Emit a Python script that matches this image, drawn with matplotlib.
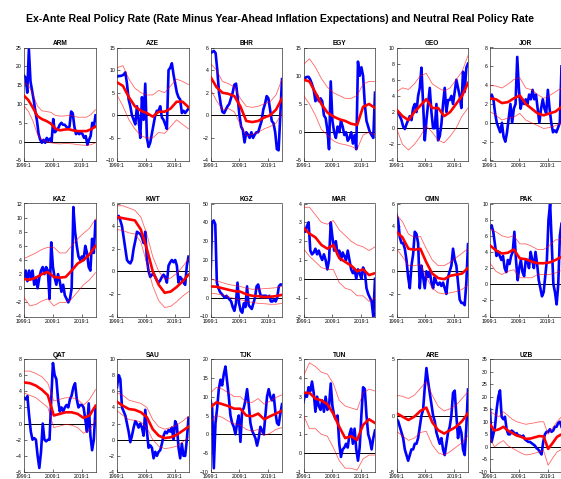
import numpy as np
import matplotlib
matplotlib.use("Agg")
import matplotlib.pyplot as plt

plt.rcParams['font.family'] = ['Liberation Sans', 'DejaVu Sans']

# time span of every panel
X0, X1 = 1999.0, 2023.75
tick_years = [1999, 2009, 2019]
tick_labels = ["1999:1", "2009:1", "2019:1"]

title = ("Ex-Ante Real Policy Rate (Rate Minus Year-Ahead Inflation Expectations) "
         "and Neutral Real Policy Rate")

# --- data (evenly spaced samples over 1999:1 - end) ---
arm_rate = [17.5, 17, 13, 24.5, 16, 13.5, 11, 8, 5.5, 2, 0.5, -0.3, 0.5, -0.3, 1, 0.2, 0.8, 0, 6,
            2.5, 3, 3.5, 4.5, 5, 4.5, 4.5, 4, 3.5, 4, 8, 7.5, 4, 2, 2.5, 2, 2.5, 2, 1, 1.5, -0.8,
            0.5, 1.5, 5, 4, 7]
arm_neutral = [12.2, 11, 9, 6.8, 6, 5.5, 4.8, 3.5, 3, 3.2, 3.3, 3, 2.8, 2.8, 2.8, 3.3, 4]
arm_upper = [15.5, 15, 12.5, 9.5, 8.2, 8, 7.8, 7, 6.8, 6.8, 7, 6.8, 6.5, 6.5, 6.5, 7.2, 8.5]
arm_lower = [9.5, 8, 5.5, 2, 0.5, 0, -0.3, -0.5, -0.6, -0.5, -0.5, -0.6, -0.8, -0.9, -1, -0.8, -0.3]

aze_rate = [8.5, 8.7, 8.7, 8.8, 9, 9.5, 7, 3.5, 2, 0, -1, -2, 2, -1, -5, 4, -1, 7, -5, -7, -6, -4,
            -2, 0, 1, 1, 2, -0.5, -1, -2, -3, 10, 10.5, 11.5, 9, 7, 5, 4, 3.5, 0.5, 1, 0.5, 1, 1.5]
aze_neutral = [7.3, 6.5, 4, 2, 1, 0.5, -0.3, 0.8, 0.8, 1.5, 3, 3, 1.8]
aze_upper = [10.5, 11, 8, 6, 5, 4.5, 4.5, 5.5, 5, 6.5, 8, 7.5, 6.8]
aze_lower = [4.5, 2, -1, -3, -4.5, -5, -5, -3.8, -4, -2.5, -1, -2, -3]

bhr_rate = [5.5, 5.6, 5.7, 5.5, 4, 2, 1, 0.3, 0.2, 0.5, 0.8, 1, 1.5, 2, 2.7, 2.8, 1.5, 0, -1, -1.3,
            -2.4, -1.5, -1.7, -2, -1.5, -2, -1.7, -1.5, -1.5, -1, -0.5, 0.5, 1, 1.7, 1.5, 0.5, -0.5,
            -0.7, -1.5, -3, -3.1, 0, 3.2]
bhr_neutral = [3.4, 2.5, 2, 1.9, 1.7, 0.8, -0.5, -0.6, -0.5, -0.2, 0, 0.5, 1.5]
bhr_upper = [4.6, 4, 3, 2.8, 2.5, 1.5, 0.8, 0.7, 0.8, 1, 1.2, 1.8, 3.2]
bhr_lower = [2.3, 1.3, 0.5, 0.6, 0.3, -0.8, -1.8, -1.7, -1.5, -1.2, -1, -0.7, 0.2]

egy_rate = [9.3, 9.6, 9.8, 9.8, 9.3, 8.5, 7.5, 5.5, 6.5, 5.5, 6, 5.5, 3, 2.5, 0.5, -3, 9, 2, 0, -1,
            1, 0, 2, 1, -0.5, 0, -1.5, -1, 0, -2, -0.5, -3, 12.5, 10, 11.5, 10, 5, 2, 1, 0, -0.5,
            -1, 7]
egy_neutral = [9.3, 9, 7, 5, 3.5, 2.8, 2.3, 2, 1.5, 1.3, 4.5, 5, 4.3]
egy_upper = [12, 13, 11.5, 9.5, 8, 7, 6.5, 6, 6, 6.5, 8.5, 9, 9]
egy_lower = [6.5, 5, 3, 0.5, -0.5, -1.5, -2, -2.2, -2.5, -3, -0.5, 0, -0.5]

geo_rate = [2.2, 2, 1.5, 1, 0.2, -0.1, 0.5, 1, 1.5, 1, 2.5, 3, 2, 4, 5, 7.5, 3, -1.5, 1, 3, 5, 2,
            0, 0, 3, -1.5, -1, 0.5, 3, 5, 2, 3.5, 3.5, 4, 3, 4.5, 6, 5, 4, 2.5, 7, 4.5, 7.5, 8]
geo_neutral = [2.3, 1.5, 1, 2, 2.8, 3.6, 2.5, 2.5, 1.5, 2, 3, 4, 5.6]
geo_upper = [4.5, 5, 4.8, 5.5, 6.5, 6.8, 5.5, 5, 4.6, 5, 6, 7, 9]
geo_lower = [0, -2, -2.7, -2, -1, 0.3, -0.5, -1.5, -1.8, -1, 0, 1.5, 2.5]

jor_rate = [2.5, 3, 2.5, 1, 0, -0.5, -1, 0, -1.5, -2, -1, 0.5, 2, 0, 1.5, 2, 7, 3.5, 1.5, 2.5, 2,
            2.5, 2, 3, 2.5, 3.5, 2.5, 3, 1.5, 0, 1.5, 2.5, 1.5, 1, 3.5, 1.5, 0, -1, -0.8, -1, -0.5,
            0, 6]
jor_neutral = [2.6, 2.5, 2.1, 2.2, 2.6, 2.9, 2, 1.5, 1, 0.8, 1, 1.2, 1.7]
jor_upper = [4, 3.9, 3.7, 4.1, 4.6, 4.8, 3.7, 3.5, 3, 2.6, 2.9, 3.3, 3.7]
jor_lower = [1.2, 0.8, 0.3, 0.5, 0.6, 1, 0.3, 0, -0.3, -0.6, -0.5, -0.3, 0]

kaz_rate = [1.5, 2.5, 1, 2.5, 1.5, 2.5, 0.5, 1.5, 0, 1.5, 2.5, 3, 2, 3, 2.5, -1.5, 6.5, 3, 1.5,
            0.5, 2, 1, -0.5, 0.5, -1, -1.5, -2, -1.5, 0, 11.5, 8, 6, 4.5, 4, 4.5, 4, 6, 5, 3, 2.5,
            7, 5, 9.5]
kaz_neutral = [1.3, 1.2, 1.5, 2, 2.3, 1.6, 1.5, 1.6, 2.5, 3.5, 4, 4.8, 6]
kaz_upper = [4.2, 4.6, 5, 5.5, 5.8, 5.8, 5, 5, 6, 7, 7.8, 8.5, 9.8]
kaz_lower = [-1.3, -2.5, -2.3, -1.8, -1.5, -2.5, -2, -2, -1.5, -0.5, 0.5, 1.2, 2.2]

kwt_rate = [4.7, 4.9, 4.5, 4, 3, 2, 1, 0.8, 0.7, 1, 2, 2.7, 3.5, 3.4, 3.3, 3, 2.5, 3.5, 1, 0,
            -0.5, -0.3, -0.2, -0.5, -0.8, -1, -0.8, -0.5, -0.3, -0.5, -1, 0.5, 0.8, 1, 0.8, 1, 0.5,
            -1, -0.5, -0.7, -1, -1.2, 0.5, 1.3]
kwt_neutral = [4.8, 4.7, 4.6, 4.5, 3.7, 2, 0, -1.2, -1.9, -1.8, -1.4, -0.9, -0.3]
kwt_upper = [5.8, 5.8, 5.6, 5.4, 4.8, 3.3, 1.3, 0, -0.7, -0.6, -0.2, 0.4, 1.1]
kwt_lower = [3.7, 3.6, 3.4, 3.3, 2.6, 0.7, -1.3, -2.6, -3.2, -3.1, -2.7, -2.2, -1.8]

kgz_rate = [10, 40, 41, 39, 8, 5, 3, 2, 1, 0, 1, 0, -1, -2, -5, -7, -3, 8, -3, -7, -8, -3, -5, 6,
            -4, -5, -6, -3, 0, 6, 7, 3, 0, 1, 1, 1, 0, 1, -2, -2, -1, -2, 0, 6, 7, 7]
kgz_neutral = [6, 5.8, 5, 4.2, 3.5, 3.2, 1.8, 1, 0.8, 0.3, 0.5, 0.8, 1.5]
kgz_upper = [10, 9, 8, 7, 6.5, 6, 5, 4.5, 4.5, 4.8, 5, 5.3, 6]
kgz_lower = [2.5, 2, 1.5, 0.5, -0.5, -1, -2, -2.5, -3, -3.2, -3.5, -3.5, -3]

mar_rate = [2.6, 2.5, 2.8, 3, 1.5, 1.3, 1.4, 1.6, 1.3, 1.5, 1.2, 1, 1.3, 1, 0.5, 1, 3, 2.2, 1.5,
            2, 1.3, 1.5, 1, 1.4, 1.2, 1, 1.5, 1, 0.5, 0.3, 0.5, 0, 0.5, 0.3, 0, 0.6, 0.4, -0.5,
            -0.8, -1, -1.2, -2, 0]
mar_neutral = [2.7, 2.4, 2.2, 1.8, 1.6, 1.8, 1.1, 0.9, 0.7, 0.4, 0.5, 0.2, 0.3]
mar_upper = [3.8, 3.8, 3.4, 3, 2.9, 3.1, 2.6, 2.3, 2, 1.8, 1.7, 1.5, 1.7]
mar_lower = [1.6, 1.2, 0.9, 0.6, 0.5, 0.5, -0.2, -0.5, -0.6, -0.9, -0.9, -1.2, -1]

omn_rate = [5, 4.5, 3, 2.5, 2.5, 2, 1, -0.5, -1.5, 0.5, 1.5, 3.5, 3.3, 2.5, -1.5, 0.5, -0.5, -1.5,
            0, -0.5, 0, -1, -1.5, -0.5, -1, -1.2, -1, -1.3, -1, -1.5, -2, -0.5, 0, 0.5, 2, 1, 0.5,
            -1, -2.5, -2.8, -2.8, -3, -1, 2.4]
omn_neutral = [3.5, 3, 2, 1.9, 2, 0.8, -0.2, -0.6, -0.7, -0.4, -0.3, -0.2, 0.3]
omn_upper = [5, 4.4, 3.3, 3, 3.1, 2, 1, 0.5, 0.5, 0.8, 1.2, 1.6, 2]
omn_lower = [2, 1.3, 0.5, 0.5, 0.6, -0.5, -1.5, -1.9, -2, -1.9, -1.8, -1.6, -1.2]

pak_rate = [7, 7.3, 6.5, 5, 3.5, 4, 3.5, 3, 3.5, 2, 1.5, 3, 2.5, 3.5, 4, 6.5, 3, 0.5, 2, 3, 1.5,
            1, 3, 3, 2, 4, 3, 2, 4, 2.5, 0.5, -0.5, -1.5, -1, 1, 3, 8, 10, 5, 0, -1, -2.5, 0, 6,
            7.5]
pak_neutral = [4.8, 4.2, 3.8, 3.9, 4.3, 3.2, 3.1, 2.8, 2.6, 2.6, 2.7, 3, 3.4]
pak_upper = [6.8, 6.5, 6, 5.8, 6, 5, 5, 4.7, 4.3, 4.3, 4.8, 5.5, 5.5]
pak_lower = [2.6, 1.6, 1.2, 1.6, 1.8, 0.8, 0.8, 0.8, 1.2, 1.2, 1.2, 1.4, 1.7]

qat_rate = [3.2, 3, 3.4, 1, -1, -2, -1.8, -2, -4, -5.5, -3.5, 0, -2, -2.2, -2, -2, 3, 7.5, 6, 5.5,
            3, 1.5, 2, 1.5, 2, 2.3, 2, 3, 3.5, 4.5, 5, 3, 2, 2.3, 2.3, 2, 0.5, -1, 2.5, -1.5, -3.3,
            -2, 1.8]
qat_neutral = [5.1, 5, 4.7, 4.2, 3.5, 1, 1.2, 1.4, 1.4, 1.2, 0.7, 1, 2.2]
qat_upper = [6.5, 6.5, 6.2, 5.8, 5, 2.8, 3, 3.2, 3.2, 3, 2.3, 3, 4.2]
qat_lower = [3.8, 3.5, 3.2, 2.6, 2, -0.5, -0.3, -0.1, -0.2, -0.5, -1.2, -0.8, 0.4]

sau_rate = [6.5, 8, 7.5, 4, 3.5, 3, 2, 1, -0.3, 0.5, 1.5, 2.3, 2, 1.5, 2, 1.5, 0.5, 3.7, 1, -1,
            -0.7, -1, -2.3, -1.5, -2, -1.5, -1.3, -0.5, 0.5, 1, 0.8, 1.2, 1, 1.5, 0, 2.3, 1.8, -1,
            -2.3, -0.5, -2, -2, 0, 2.7]
sau_neutral = [4.7, 4.2, 3.8, 3.7, 3.4, 2.8, 1.3, 0.5, 0.2, 0.3, 0.6, 1.1, 1.6]
sau_upper = [5.8, 5.5, 4.9, 4.7, 4.5, 4, 2.5, 1.6, 1.3, 1.5, 1.8, 2.3, 2.9]
sau_lower = [3.6, 3, 2.5, 2.4, 2.2, 1.5, 0, -0.8, -1.1, -1, -0.8, -0.3, 0.3]

tjk_rate = [9, 7, -9, 3, 7, 12, 14.5, 13, 16, 18, 14, 10, 5, 3, 2, 0, 3, 5, -2, 6, 7, 9, 12, 8,
            3, 1, 0, -1, -3, -1, 2, 1, 0, 5, 10, 12, 10, 9, 10.5, 6, 3, 2.5, 5.5, 8]
tjk_neutral = [7.2, 8.5, 8, 7.5, 6.8, 6.8, 5, 4.8, 5.5, 4, 4.8, 5.5, 6.3]
tjk_upper = [11, 12.5, 12, 11, 10, 10, 8.5, 8.5, 9.5, 8, 8.8, 9.8, 10.5]
tjk_lower = [3.2, 5, 4.5, 3.5, 2.8, 2.5, 1.3, 0.8, 1.3, -0.3, 0.3, 1.3, 1.8]

tun_rate = [2.7, 3.2, 3, 3.5, 3.3, 3.8, 3.2, 2.2, 3, 2.5, 2.3, 2.8, 2.2, 3, 2.3, 2.5, 3.7, 2.5, 2,
            1.8, 2, 0.5, -0.2, 0.2, 0.3, 0.5, 0.3, 1, 1.3, 0.5, 1.3, 0.2, -0.4, 0.3, 2, 3.5, 3.4,
            2, 1, 0.7, 0.2, 0.8, 1.2]
tun_neutral = [3.2, 3.2, 2.9, 2.8, 2.6, 2.1, 1.4, 0.8, 0.9, 0.7, 1.5, 1.8, 1.6]
tun_upper = [4.1, 4.8, 4.6, 4.3, 4.2, 3.7, 2.8, 2.5, 2.4, 2.3, 3.2, 3.4, 3.3]
tun_lower = [2, 1.3, 1.3, 1, 0.9, 0.3, -0.4, -0.8, -0.8, -0.9, -0.3, -0.1, -0.1]

are_rate = [-0.3, -0.5, -1, -1.5, -2, -3, -3.5, -4, -3.5, -3, -3, -2.5, -2.5, -2, -1, 0, 0.5, 2.5,
            4.2, 3, 2, 1, 0, -0.5, -1.5, -2, -2.5, -2, -3, -3.5, -2.5, -1.5, -1, 0, 2, 2.2, 0, -2,
            -1, -1.5, -3, -3.5, -1, 2.3]
are_neutral = [0.2, -0.1, -0.4, -0.1, 0.4, 0.7, -0.6, -1.3, -1.6, -1.3, -1, -0.5, 0.2]
are_upper = [1.8, 1.7, 1.5, 1.8, 2.4, 3, 1.8, 0.8, 0.4, 0.6, 0.9, 1.5, 2.1]
are_lower = [-1.4, -1.8, -2.2, -2, -1.5, -1.4, -2.6, -3.3, -3.5, -3.2, -2.8, -2.4, -1.8]

uzb_rate = [15, 2, 5, 8, 15, 20, 22.5, 12, 11, 12, 7, 5, 5, 6.5, 6, 5, 5.5, 4.5, 4.5, 4, 4.5, 3,
            2.5, 2, 2, 1.5, 1, 0.5, -0.5, -1, -2, -3, 2, 5, 6, 6, 7, 6, 6.5, 8, 8, 9.5, 10, 8]
uzb_neutral = [9, 6.5, 7, 8, 6.5, 5.5, 4.5, 4, 3.2, 3.3, 3.8, 4.3, 4.2, -0.8, 1.5, 4, 5]
uzb_upper = [14, 13, 12, 14, 12.5, 11, 10, 9.5, 9, 9.3, 9.6, 10, 10, 5, 7.5, 10, 12]
uzb_lower = [3.5, 0, 1.5, 2.5, 0.5, -0.5, -1.5, -2.5, -3.2, -3, -2.5, -2, -1.5, -7.3, -4.5, -2, -1]

# name, series, y-range, y-step
panels = [
    ("ARM", arm_rate, arm_neutral, arm_upper, arm_lower, (-5, 25), 5),
    ("AZE", aze_rate, aze_neutral, aze_upper, aze_lower, (-10, 15), 5),
    ("BHR", bhr_rate, bhr_neutral, bhr_upper, bhr_lower, (-4, 6), 2),
    ("EGY", egy_rate, egy_neutral, egy_upper, egy_lower, (-5, 15), 5),
    ("GEO", geo_rate, geo_neutral, geo_upper, geo_lower, (-4, 10), 2),
    ("JOR", jor_rate, jor_neutral, jor_upper, jor_lower, (-4, 8), 2),
    ("KAZ", kaz_rate, kaz_neutral, kaz_upper, kaz_lower, (-4, 12), 2),
    ("KWT", kwt_rate, kwt_neutral, kwt_upper, kwt_lower, (-4, 6), 2),
    ("KGZ", kgz_rate, kgz_neutral, kgz_upper, kgz_lower, (-10, 50), 10),
    ("MAR", mar_rate, mar_neutral, mar_upper, mar_lower, (-2, 4), 1),
    ("OMN", omn_rate, omn_neutral, omn_upper, omn_lower, (-4, 6), 2),
    ("PAK", pak_rate, pak_neutral, pak_upper, pak_lower, (-4, 10), 2),
    ("QAT", qat_rate, qat_neutral, qat_upper, qat_lower, (-6, 8), 2),
    ("SAU", sau_rate, sau_neutral, sau_upper, sau_lower, (-4, 10), 2),
    ("TJK", tjk_rate, tjk_neutral, tjk_upper, tjk_lower, (-10, 20), 5),
    ("TUN", tun_rate, tun_neutral, tun_upper, tun_lower, (-1, 5), 1),
    ("ARE", are_rate, are_neutral, are_upper, are_lower, (-5, 5), 5),
    ("UZB", uzb_rate, uzb_neutral, uzb_upper, uzb_lower, (-10, 35), 5),
]


def xs(series):
    return np.linspace(X0, X1, len(series))


W, H = 561, 479
fig = plt.figure(figsize=(W / 100, H / 100), dpi=100)
fig.text(280 / W, 1 - 19 / H, title, ha='center', va='center',
         fontsize=7.6, fontweight='bold')

# panel grid in pixels
col_left = [24, 117, 210.5, 303.5, 396.5, 490]
row_top = [47.5, 203.5, 359]
aw, ah = 71.5, 113

for k, (name, rate, neu, up, lo, ylim, step) in enumerate(panels):
    r, c = divmod(k, 6)
    ax = fig.add_axes([col_left[c] / W, 1 - (row_top[r] + ah) / H, aw / W, ah / H])
    ax.axhline(0, color='black', lw=0.7, zorder=1)
    ax.plot(xs(rate), rate, color='blue', lw=1.9, zorder=2)
    ax.plot(xs(up), up, color='red', lw=0.6, alpha=0.6, zorder=3)
    ax.plot(xs(lo), lo, color='red', lw=0.6, alpha=0.6, zorder=3)
    ax.plot(xs(neu), neu, color='red', lw=1.9, zorder=4)

    ax.set_xlim(X0, X1)
    ax.set_ylim(*ylim)
    ax.set_yticks(np.arange(ylim[0], ylim[1] + step / 2, step))
    ax.set_xticks(tick_years)
    ax.set_xticklabels(tick_labels)
    ax.tick_params(labelsize=3.7, direction='in', length=2, width=0.4, pad=1.5)
    for sp in ax.spines.values():
        sp.set_linewidth(0.5)
        sp.set_color('#333333')
    ax.set_title(name, fontsize=4.7, fontweight='bold', pad=1.5)

fig.savefig("out.png", dpi=100)
